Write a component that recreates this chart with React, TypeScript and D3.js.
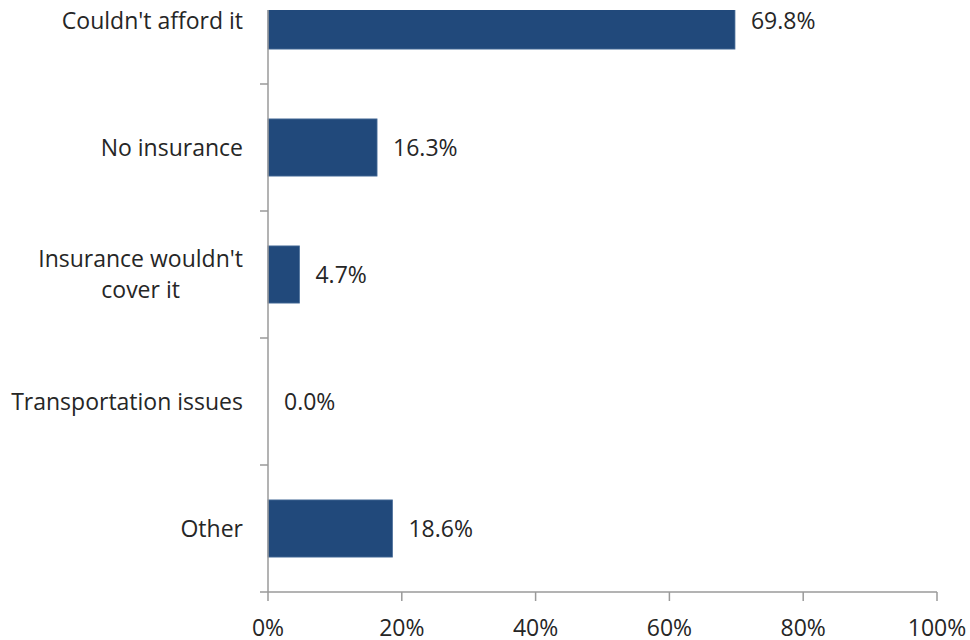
import React, { useLayoutEffect, useRef, useState } from "react";
import * as d3 from "d3";

const categories = ["Couldn't afford it", "No insurance", "Insurance wouldn't|cover it", "Transportation issues", "Other"];
const values = [69.8, 16.3, 4.7, 0.0, 18.6];
const xTicks = [0, 20, 40, 60, 80, 100];

const W = 970, H = 640;
const FONT = "'Open Sans', sans-serif";
const FS = 23;
const TXT = "#262626";
const AX = "#9A9A9A";

function MultiLabel({ lines, right, cy, lh }: { lines: string[]; right: number; cy: number; lh: number }) {
  const ref = useRef<SVGGElement>(null);
  const [w, setW] = useState(0);
  useLayoutEffect(() => {
    if (!ref.current) return;
    const ts = Array.from(ref.current.querySelectorAll("text")) as SVGTextElement[];
    const m = Math.max(...ts.map((t) => t.getComputedTextLength()));
    if (Math.abs(m - w) > 0.5) setW(m);
  });
  const cx = right - w / 2;
  return (
    <g ref={ref}>
      {lines.map((ln, j) => (
        <text key={j} x={cx} y={cy + (j - (lines.length - 1) / 2) * lh} dy="0.35em" textAnchor="middle" fontSize={FS} fill={TXT}>{ln}</text>
      ))}
    </g>
  );
}

export default function App() {
  const x = d3.scaleLinear().domain([0, 100]).range([268, 937]);
  const y = d3.scaleBand<string>().domain(categories).range([-43, 592]).paddingInner(0.55).paddingOuter(0.275);
  const clipTop = 10;
  return (
    <svg width={W} height={H} style={{ position: "absolute", left: 0, top: 0 }} fontFamily={FONT}>
      <defs>
        <clipPath id="plotclip"><rect x={0} y={clipTop} width={W} height={H - clipTop} /></clipPath>
      </defs>
      <g clipPath="url(#plotclip)">
        {categories.map((c, i) => (
          <rect key={c} x={x(0)} y={y(c)!} width={x(values[i]) - x(0)} height={y.bandwidth()} fill="#21497B" stroke="#4A6E9A" strokeWidth={0.8} />
        ))}
      </g>
      <line x1={268} x2={268} y1={clipTop} y2={592} stroke={AX} strokeWidth={1.5} />
      <line x1={260} x2={937} y1={592} y2={592} stroke={AX} strokeWidth={1.5} />
      {categories.slice(0, -1).map((c, i) => {
        const yy = y.step() * (i + 1) + (-43);
        return <line key={"yt" + i} x1={260} x2={268} y1={yy} y2={yy} stroke={AX} strokeWidth={1.5} />;
      })}
      {xTicks.map((t) => (
        <g key={"xt" + t}>
          <line x1={x(t)} x2={x(t)} y1={592} y2={601} stroke={AX} strokeWidth={1.5} />
          <text x={x(t)} y={636} textAnchor="middle" fontSize={FS} fill={TXT}>{t}%</text>
        </g>
      ))}
      {categories.map((c, i) => {
        const cy = y(c)! + y.bandwidth() / 2;
        const lines = c.split("|");
        return (
          <g key={"cl" + i}>
            {lines.length > 1 ? (
              <MultiLabel lines={lines} right={243} cy={cy} lh={31} />
            ) : (
              <text x={243} y={cy} dy="0.35em" textAnchor="end" fontSize={FS} fill={TXT}>{c}</text>
            )}
            <text x={x(values[i]) + 16} y={cy} dy="0.35em" fontSize={FS} fill={TXT}>{values[i].toFixed(1)}%</text>
          </g>
        );
      })}
    </svg>
  );
}
